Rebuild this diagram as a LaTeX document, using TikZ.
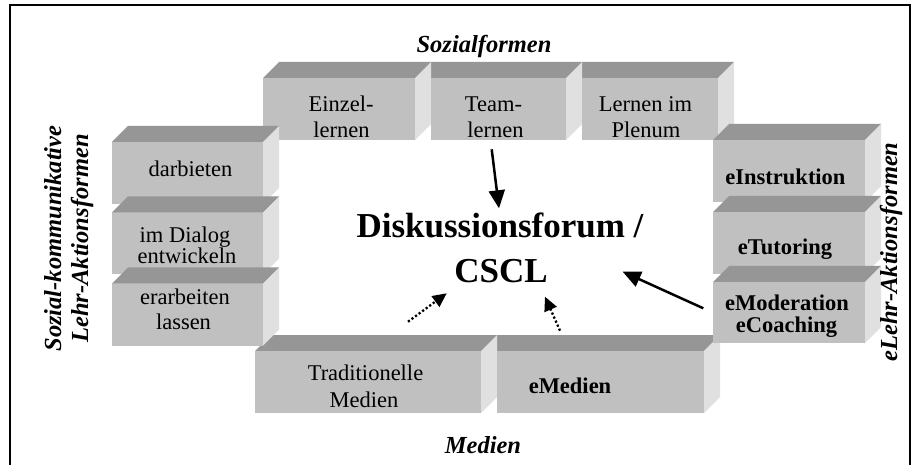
\documentclass[tikz,border=0pt]{standalone}
\usepackage{fontspec}
\setmainfont{Liberation Serif}
\usetikzlibrary{arrows.meta}
\definecolor{topgray}{RGB}{150,150,150}
\definecolor{frontgray}{RGB}{192,192,192}
\definecolor{sidegray}{RGB}{224,224,224}
\newcommand\cubetop[1]{\fill[topgray] (#1.north west) -- ([shift={(16,-16)}]#1.north west) -- ([shift={(16,-16)}]#1.north east) -- (#1.north east) -- cycle;}
\newcommand\cubeside[1]{\fill[sidegray] (#1.north east) -- ([shift={(16,-16)}]#1.north east) -- ([shift={(16,-16)}]#1.south east) -- (#1.south east) -- cycle;}
\begin{document}
\begin{tikzpicture}[x=1pt,y=-1pt,
  front/.style={fill=frontgray, draw=none, inner sep=0pt, outer sep=0pt},
  boxtxt/.style={font=\fontsize{22.5}{26}\selectfont, anchor=base, inner sep=0pt},
  boxbold/.style={font=\fontsize{22.5}{26}\selectfont\bfseries, anchor=base, inner sep=0pt},
  lab/.style={font=\fontsize{24.5}{28}\selectfont\bfseries\itshape, anchor=base, inner sep=0pt},
  centertxt/.style={font=\fontsize{35}{40}\selectfont\bfseries, anchor=base, inner sep=0pt},
  solidarrow/.style={line width=2.5pt, -{Triangle[length=18pt,width=16pt]}},
  dotarrow/.style={line width=2.3pt, dash pattern=on 2.2pt off 2.2pt, -{Triangle[length=14pt,width=13pt]}}
]
\useasboundingbox (0,0) rectangle (919,465);
\fill[white] (0,0) rectangle (919,465);

% top row
\fill[topgray] (263,78) -- (279,62) -- (734,62) -- (718,78) -- cycle;
\node[front, minimum width=152pt, minimum height=62pt] (einzel) at (339,109) {};
\cubeside{einzel}
\node[front, minimum width=135pt, minimum height=62pt] (team) at (498.5,109) {};
\cubeside{team}
\node[front, minimum width=136pt, minimum height=62pt] (plenum) at (650,109) {};
\cubeside{plenum}

% bottom row
\fill[topgray] (255,351) -- (271,335) -- (720,335) -- (704,351) -- cycle;
\node[front, minimum width=226pt, minimum height=62pt] (trad) at (368,382) {};
\cubeside{trad}
\node[front, minimum width=207pt, minimum height=62pt] (emed) at (600.5,382) {};
\cubeside{emed}

% left stack
\node[front, minimum width=151pt, minimum height=62pt] (darb) at (187.5,173) {};
\cubetop{darb}\cubeside{darb}
\node[front, minimum width=151pt, minimum height=62pt] (dialog) at (187.5,243.5) {};
\cubetop{dialog}\cubeside{dialog}
\node[front, minimum width=151pt, minimum height=62pt] (erarb) at (187.5,314.5) {};
\cubetop{erarb}\cubeside{erarb}

% right stack
\node[front, minimum width=152pt, minimum height=62pt] (instr) at (789,171) {};
\cubetop{instr}\cubeside{instr}
\node[front, minimum width=152pt, minimum height=62pt] (tutor) at (789,243) {};
\cubetop{tutor}\cubeside{tutor}
\node[front, minimum width=152pt, minimum height=61pt] (moder) at (789,312.5) {};
\cubetop{moder}\cubeside{moder}

% box texts
\node[boxtxt] (t1a) at (341,112) {Einzel-};
\node[boxtxt] (t1b) at (341.5,138) {lernen};
\node[boxtxt] (t2a) at (493.5,112) {Team-};
\node[boxtxt] (t2b) at (495.5,138) {lernen};
\node[boxtxt] (t3a) at (645.5,112) {Lernen im};
\node[boxtxt] (t3b) at (646,138) {Plenum};
\node[boxtxt] (l1) at (190.5,177) {darbieten};
\node[boxtxt] (l2a) at (185,243) {im Dialog};
\node[boxtxt] (l2b) at (187,263.5) {entwickeln};
\node[boxtxt] (l3a) at (185,305) {erarbeiten};
\node[boxtxt] (l3b) at (183.5,330) {lassen};
\node[boxbold] (r1) at (785.5,185) {eInstruktion};
\node[boxbold] (r2) at (785,255) {eTutoring};
\node[boxbold] (r3a) at (787,310) {eModeration};
\node[boxbold] (r3b) at (786.5,333) {eCoaching};
\node[boxtxt] (b1a) at (365.5,380) {Traditionelle};
\node[boxtxt] (b1b) at (364,407) {Medien};
\node[boxbold] (b2) at (570,393) {eMedien};

% centre
\node[centertxt] (cen1) at (500,238) {Diskussionsforum /};
\node[centertxt] (cen2) at (501,283) {CSCL};

% group labels
\node[lab] (lsoz) at (484,53) {Sozialformen};
\node[lab] (lmed) at (483,453) {Medien};
\node[lab, rotate=90] (lleft1) at (61,238.5) {Sozial-kommunikative};
\node[lab, rotate=90] (lleft2) at (88,238.5) {Lehr-Aktionsformen};
\node[lab, rotate=90] (lright) at (897,252) {eLehr-Aktionsformen};

% arrows
\coordinate (a1s) at (491.7,149.3);
\coordinate (a1e) at (499,208.3);
\coordinate (a2s) at (703.3,308.3);
\coordinate (a2e) at (622.7,271.7);
\coordinate (a3s) at (408,321.7);
\coordinate (a3e) at (446.7,293.3);
\coordinate (a4s) at (560,330.7);
\coordinate (a4e) at (545,296.7);
\draw[solidarrow] (a1s) -- (a1e);
\draw[solidarrow] (a2s) -- (a2e);
\draw[dotarrow] (a3s) -- (a3e);
\draw[dotarrow] (a4s) -- (a4e);

% frame
\draw[line width=2pt] (10,466) -- (10,5) -- (910,5) -- (910,466);
\end{tikzpicture}
\end{document}
